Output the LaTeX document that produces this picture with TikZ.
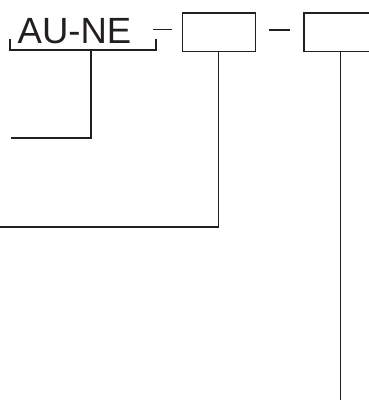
\documentclass[tikz,border=0pt]{standalone}
\usepackage{fontspec}
\setmainfont{Liberation Sans}
\definecolor{ink}{RGB}{35,31,32}
\begin{document}
\begin{tikzpicture}[x=1pt,y=-1pt,
  wire/.style={draw=ink,line width=1.4pt},
  field/.style={draw=ink,line width=1.4pt}]
\useasboundingbox (0,0) rectangle (368,400);
% code text and its bracket
\node[anchor=base west,inner sep=0pt,font=\fontsize{36.5}{40}\selectfont,text=ink] (code) at (17.5,43) {AU-NE};
\coordinate (bl) at (10,39);
\coordinate (br) at (156,39);
\draw[wire] (bl) |- (br |- 0,50) -- (br);
\coordinate (bm) at (91,50);
\coordinate (e1) at (11,138);
\draw[wire] (bm) |- (e1);
% separators
\coordinate (s1a) at (153,29.5);
\coordinate (s1b) at (172,29.5);
\draw[wire] (s1a) -- (s1b);
\coordinate (s2a) at (269,30);
\coordinate (s2b) at (290,30);
\draw[wire] (s2a) -- (s2b);
% empty fields
\node[field,minimum width=73pt,minimum height=38.5pt,inner sep=0pt,anchor=north west] (f1) at (182,12.2) {};
\node[field,minimum width=80pt,minimum height=38.5pt,inner sep=0pt,anchor=north west] (f2) at (303.3,12.2) {};
% leaders
\coordinate (e2) at (-2,227);
\draw[wire] (f1.south -| 218.3,0) |- (e2);
\coordinate (e3) at (340.7,402);
\draw[wire] (f2.south -| 340.7,0) -- (e3);
\end{tikzpicture}
\end{document}
